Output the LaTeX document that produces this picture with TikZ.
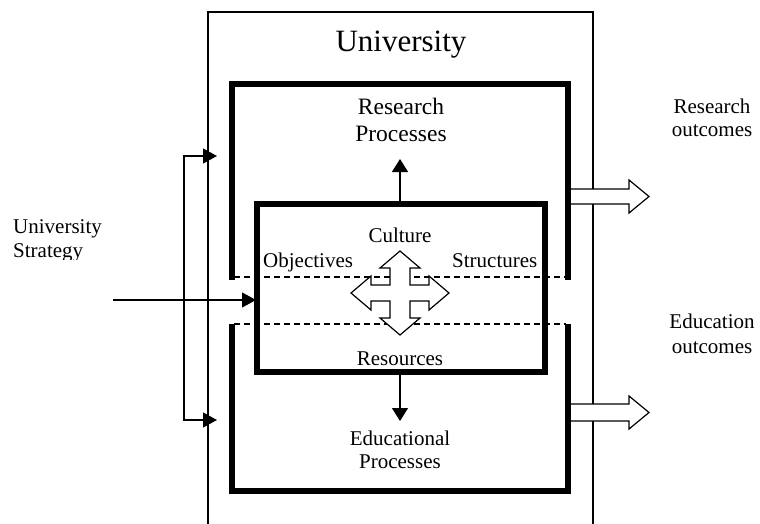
\documentclass[tikz,border=0pt]{standalone}
\usepackage{fontspec}
\setmainfont{Liberation Serif}
\usetikzlibrary{arrows.meta}
\begin{document}
\begin{tikzpicture}[x=1pt,y=-1pt,
  frame/.style={line width=1.1pt},
  heavy/.style={line width=5.5pt, line join=miter},
  divider/.style={line width=1.1pt, dash pattern=on 6pt off 4pt},
  flow/.style={line width=1.2pt, -{Triangle[length=14pt,width=15pt]}},
  hollow/.style={line width=1.2pt, fill=white, line join=miter},
  lbl/.style={inner sep=0pt, anchor=base, align=center, font=\fontsize{21}{24}\selectfont},
]
\useasboundingbox (0,0) rectangle (760,524);

% university frame, open at the bottom
\draw[frame] (208,524) -- (208,12) -- (593,12) -- (593,524);
\node[lbl, font=\fontsize{31}{36}\selectfont] (uni) at (401,52) {University};

% strategy input and its two branches (multi-line nodes sit on their last baseline)
\begin{scope}
  \clip (0,190) rectangle (200,259.5);
  \node[lbl, anchor=base west, align=left] (strategy) at (13,257) {University\\Strategy};
\end{scope}
\coordinate (inStart) at (113,300);
\coordinate (inEnd) at (256,300);
\coordinate (branchTop) at (217,156);
\coordinate (branchBot) at (217,420);
\draw[flow] (inStart) -- (inEnd);
\draw[line width=1.2pt, line join=miter,
      {Triangle[length=14pt,width=15pt]}-{Triangle[length=14pt,width=15pt]}]
  (branchTop) -| (184,288) |- (branchBot);

% dashed boundaries between the two process areas
\draw[divider] (234,277) -- (566,277);
\draw[divider] (234,324) -- (566,324);

% output block arrows
\draw[hollow] (566,189) -- (629,189) -- (629,180) -- (649,196.5) -- (629,213) -- (629,204) -- (566,204);
\draw[hollow] (566,404) -- (629,404) -- (629,396) -- (649,412.5) -- (629,429) -- (629,421) -- (566,421);

% research and educational process areas
\draw[heavy] (232,280) -- (232,84) -- (568,84) -- (568,280);
\draw[heavy] (232,324) -- (232,491) -- (568,491) -- (568,324);

% core box
\draw[heavy] (257,204) rectangle (545,372);
\coordinate (coreTop) at (400,204);
\coordinate (coreBot) at (400,372);
\coordinate (resTip) at (400,159);
\coordinate (eduTip) at (400,421);
\draw[line width=1.2pt, -{Triangle[length=13pt,width=16pt]}] (coreTop) -- (resTip);
\draw[line width=1.2pt, -{Triangle[length=13pt,width=16pt]}] (coreBot) -- (eduTip);

% four-way arrow
\draw[hollow, shift={(400,293)}]
  (0,-42) -- (20,-25) -- (10,-25) -- (10,-8) -- (29,-8) -- (29,-17) -- (49,0)
  -- (29,17) -- (29,8) -- (10,8) -- (10,25) -- (20,25) -- (0,42)
  -- (-20,25) -- (-10,25) -- (-10,8) -- (-29,8) -- (-29,17) -- (-49,0)
  -- (-29,-17) -- (-29,-8) -- (-10,-8) -- (-10,-25) -- (-20,-25) -- cycle;

% labels
\node[lbl, font=\fontsize{23.5}{27}\selectfont] (research) at (401,142) {Research\\Processes};
\node[lbl] (culture) at (400,242) {Culture};
\node[lbl, anchor=base west] (objectives) at (263,267) {Objectives};
\node[lbl, anchor=base west] (structures) at (452,267) {Structures};
\node[lbl] (resources) at (400,365) {Resources};
\node[lbl, font=\fontsize{21}{23}\selectfont] (educational) at (400,468) {Educational\\Processes};
\node[lbl] (resout) at (712,137) {Research\\outcomes};
\node[lbl, font=\fontsize{21}{25}\selectfont] (eduout) at (712,353) {Education\\outcomes};
\end{tikzpicture}
\end{document}
